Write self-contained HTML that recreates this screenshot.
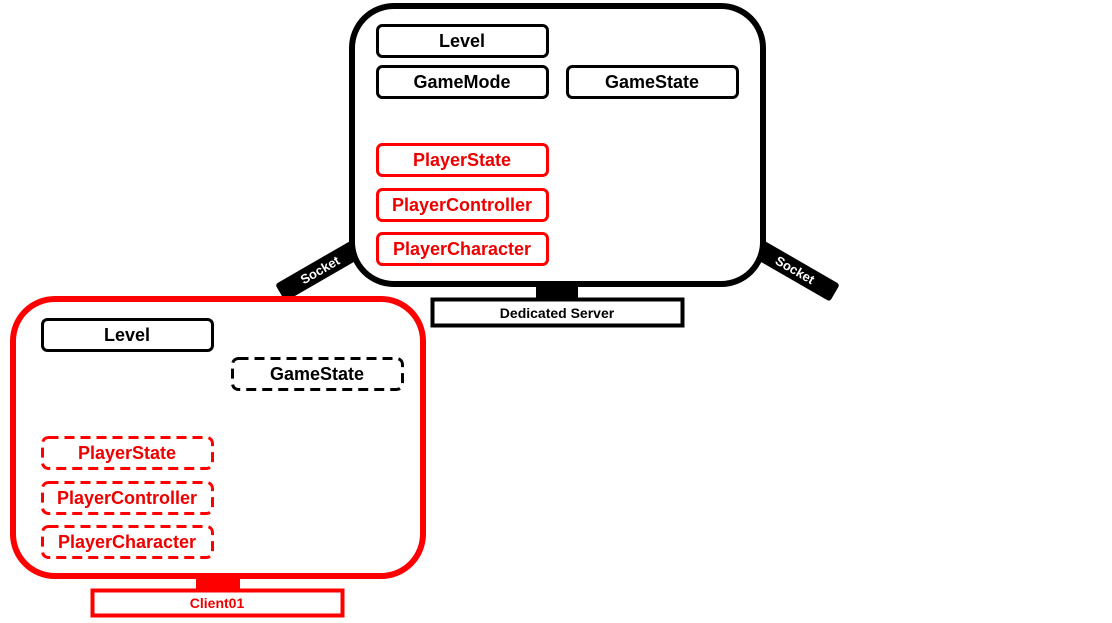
<!DOCTYPE html>
<html><head><meta charset="utf-8"><style>
html,body{margin:0;padding:0;background:#fff;width:1112px;height:623px;overflow:hidden}
text{font-family:"Liberation Sans","Noto Sans CJK KR",sans-serif;font-weight:bold;text-anchor:middle;dominant-baseline:central}
</style></head><body>
<svg width="1112" height="623" viewBox="0 0 1112 623" xmlns="http://www.w3.org/2000/svg">
<!-- sockets -->
<g transform="translate(320,270) rotate(-30)"><rect x="-46" y="-10" width="92" height="20" rx="3" fill="#000"/><text x="0" y="0" fill="#fff" font-size="13">Socket</text></g>
<g transform="translate(795,270) rotate(30)"><rect x="-46" y="-10" width="92" height="20" rx="3" fill="#000"/><text x="0" y="0" fill="#fff" font-size="13">Socket</text></g>
<!-- server -->
<rect x="352" y="6" width="411" height="278" rx="42" fill="#fff" stroke="#000" stroke-width="6"/>
<rect x="536" y="285" width="42" height="14" fill="#000"/>
<rect x="432.5" y="299.5" width="250" height="26" fill="#fff" stroke="#000" stroke-width="4"/>
<text x="557" y="313" font-size="14" fill="#000">Dedicated Server</text>
<g stroke="#000" stroke-width="3" fill="#fff">
<rect x="377.5" y="25.5" width="170" height="31" rx="5"/>
<rect x="377.5" y="66.5" width="170" height="31" rx="5"/>
<rect x="567.5" y="66.5" width="170" height="31" rx="5"/>
</g>
<g stroke="#f00" stroke-width="3" fill="#fff">
<rect x="377.5" y="144.5" width="170" height="31" rx="5"/>
<rect x="377.5" y="189.5" width="170" height="31" rx="5"/>
<rect x="377.5" y="233.5" width="170" height="31" rx="5"/>
</g>
<g font-size="18">
<text x="462" y="41" fill="#000">Level</text>
<text x="462" y="82" fill="#000">GameMode</text>
<text x="652" y="82" fill="#000">GameState</text>
<text x="462" y="160" fill="#e00">PlayerState</text>
<text x="462" y="205" fill="#e00">PlayerController</text>
<text x="462" y="249" fill="#e00">PlayerCharacter</text>
</g>
<!-- client -->
<rect x="13" y="299" width="410" height="277" rx="42" fill="#fff" stroke="#f00" stroke-width="6"/>
<rect x="196" y="577" width="44" height="13" fill="#f00"/>
<rect x="92.5" y="590.5" width="250" height="25" fill="#fff" stroke="#f00" stroke-width="4"/>
<text x="217" y="603" font-size="14" fill="#e00">Client01</text>
<rect x="42.5" y="319.5" width="170" height="31" rx="5" fill="#fff" stroke="#000" stroke-width="3"/>
<rect x="232.5" y="358.5" width="170" height="31" rx="6" fill="#fff" stroke="#000" stroke-width="3" stroke-dasharray="10,6"/>
<g stroke="#f00" stroke-width="3" fill="#fff" stroke-dasharray="10,6">
<rect x="42.5" y="437.5" width="170" height="31" rx="6"/>
<rect x="42.5" y="482.5" width="170" height="31" rx="6"/>
<rect x="42.5" y="526.5" width="170" height="31" rx="6"/>
</g>
<g font-size="18">
<text x="127" y="335" fill="#000">Level</text>
<text x="317" y="374" fill="#000">GameState</text>
<text x="127" y="453" fill="#e00">PlayerState</text>
<text x="127" y="498" fill="#e00">PlayerController</text>
<text x="127" y="542" fill="#e00">PlayerCharacter</text>
</g>
</svg>
</body></html>
